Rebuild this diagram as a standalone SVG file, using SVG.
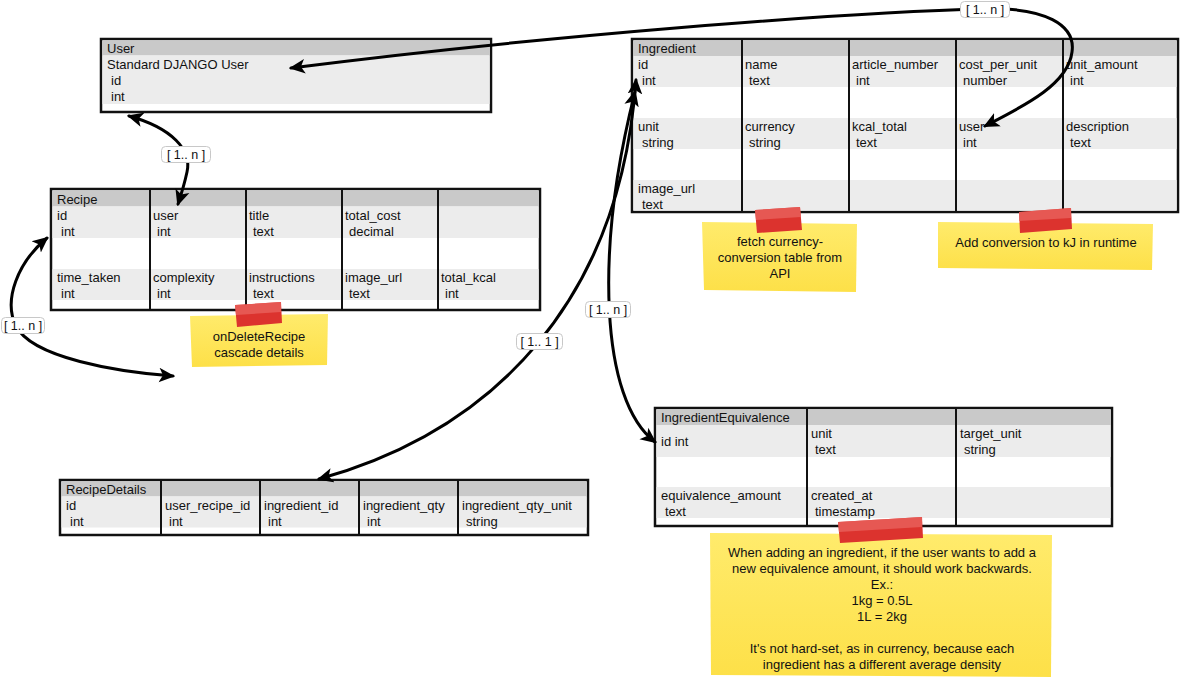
<svg xmlns="http://www.w3.org/2000/svg" width="1180" height="679" viewBox="0 0 1180 679">
<style>
text{font-family:"Liberation Sans",Arial,sans-serif;font-size:13px;fill:#111}
.frame{fill:#ffffff;stroke:#111;stroke-width:2.5}
.hdr{fill:#c9c9c9}
.row{fill:#ececec}
.col{stroke:#111;stroke-width:2}
.note{fill:url(#yel)}
.tape{fill:#dc332e}
.tapehi{fill:#e8615c;opacity:0.8}
.nt{text-anchor:middle}
.conn{fill:none;stroke:#000;stroke-width:3;stroke-linecap:round;marker-start:url(#ah);marker-end:url(#ah)}
.lbl{fill:#fff;stroke:#c8c8c8;stroke-width:1}
.lt{font-size:12.5px;text-anchor:middle}
</style>
<defs>
<linearGradient id="yel" x1="0" y1="0" x2="0" y2="1">
<stop offset="0" stop-color="#ffeb6c"/>
<stop offset="1" stop-color="#fde048"/>
</linearGradient>
<marker id="ah" viewBox="0 0 12 12" refX="10.5" refY="6" markerWidth="16" markerHeight="16" markerUnits="userSpaceOnUse" orient="auto-start-reverse">
<path d="M0,0.5 L12,6 L0,11.5 L3,6 z" fill="#000"/>
</marker>
</defs>

<g id="user">
<rect class="frame" x="101" y="39" width="390" height="73"/>
<rect class="hdr" x="102.5" y="40.5" width="387" height="15"/>
<rect class="row" x="102.5" y="55.5" width="387" height="48.5"/>
<text x="107" y="53">User</text>
<text x="107" y="69">Standard DJANGO User</text>
<text x="111" y="85">id</text>
<text x="111" y="101">int</text>
</g>

<g id="recipe">
<rect class="frame" x="51" y="189" width="489" height="121"/>
<rect class="hdr" x="52.5" y="190.5" width="486" height="16"/>
<rect class="row" x="52.5" y="206.5" width="486" height="31.5"/>
<rect class="row" x="52.5" y="269" width="486" height="31"/>
<line class="col" x1="150" y1="190" x2="150" y2="309"/>
<line class="col" x1="246" y1="190" x2="246" y2="309"/>
<line class="col" x1="342" y1="190" x2="342" y2="309"/>
<line class="col" x1="438" y1="190" x2="438" y2="309"/>
<text x="57" y="204">Recipe</text>
<text x="57" y="220">id</text><text x="61" y="236">int</text>
<text x="153" y="220">user</text><text x="157" y="236">int</text>
<text x="249" y="220">title</text><text x="253" y="236">text</text>
<text x="345" y="220">total_cost</text><text x="349" y="236">decimal</text>
<text x="57" y="282">time_taken</text><text x="61" y="298">int</text>
<text x="153" y="282">complexity</text><text x="157" y="298">int</text>
<text x="249" y="282">instructions</text><text x="253" y="298">text</text>
<text x="345" y="282">image_url</text><text x="349" y="298">text</text>
<text x="441" y="282">total_kcal</text><text x="445" y="298">int</text>
</g>

<g id="ingredient">
<rect class="frame" x="632" y="39" width="546" height="173"/>
<rect class="hdr" x="633.5" y="40.5" width="543" height="15.5"/>
<rect class="row" x="633.5" y="56" width="543" height="31"/>
<rect class="row" x="633.5" y="118" width="543" height="31"/>
<rect class="row" x="633.5" y="180" width="543" height="30.5"/>
<line class="col" x1="742" y1="40" x2="742" y2="211"/>
<line class="col" x1="849" y1="40" x2="849" y2="211"/>
<line class="col" x1="956" y1="40" x2="956" y2="211"/>
<line class="col" x1="1063" y1="40" x2="1063" y2="211"/>
<text x="638" y="53">Ingredient</text>
<text x="638" y="69">id</text><text x="642" y="85">int</text>
<text x="745" y="69">name</text><text x="749" y="85">text</text>
<text x="852" y="69">article_number</text><text x="856" y="85">int</text>
<text x="959" y="69">cost_per_unit</text><text x="963" y="85">number</text>
<text x="1066" y="69">unit_amount</text><text x="1070" y="85">int</text>
<text x="638" y="131">unit</text><text x="642" y="147">string</text>
<text x="745" y="131">currency</text><text x="749" y="147">string</text>
<text x="852" y="131">kcal_total</text><text x="856" y="147">text</text>
<text x="959" y="131">user</text><text x="963" y="147">int</text>
<text x="1066" y="131">description</text><text x="1070" y="147">text</text>
<text x="638" y="193">image_url</text><text x="642" y="209">text</text>
</g>

<g id="recipedetails">
<rect class="frame" x="60" y="480" width="528" height="55"/>
<rect class="hdr" x="61.5" y="481.5" width="525" height="15"/>
<rect class="row" x="61.5" y="496.5" width="525" height="31"/>
<line class="col" x1="161" y1="481" x2="161" y2="534"/>
<line class="col" x1="260" y1="481" x2="260" y2="534"/>
<line class="col" x1="359" y1="481" x2="359" y2="534"/>
<line class="col" x1="458" y1="481" x2="458" y2="534"/>
<text x="66" y="494">RecipeDetails</text>
<text x="66" y="510">id</text><text x="70" y="526">int</text>
<text x="165" y="510">user_recipe_id</text><text x="169" y="526">int</text>
<text x="264" y="510">ingredient_id</text><text x="268" y="526">int</text>
<text x="363" y="510">ingredient_qty</text><text x="367" y="526">int</text>
<text x="462" y="510">ingredient_qty_unit</text><text x="466" y="526">string</text>
</g>

<g id="ingredientequivalence">
<rect class="frame" x="655" y="408" width="457" height="118"/>
<rect class="hdr" x="656.5" y="409.5" width="454" height="15.5"/>
<rect class="row" x="656.5" y="425" width="454" height="32"/>
<rect class="row" x="656.5" y="487" width="454" height="31"/>
<line class="col" x1="807" y1="409" x2="807" y2="525"/>
<line class="col" x1="956" y1="409" x2="956" y2="525"/>
<text x="661" y="422">IngredientEquivalence</text>
<text x="661" y="446">id int</text>
<text x="811" y="438">unit</text><text x="815" y="454">text</text>
<text x="960" y="438">target_unit</text><text x="964" y="454">string</text>
<text x="661" y="500">equivalence_amount</text><text x="665" y="516">text</text>
<text x="811" y="500">created_at</text><text x="815" y="516">timestamp</text>
</g>

<g id="connectors">
<path class="conn" d="M 129 116 C 172 128 192 150 187 172 C 184 186 181 195 178 204"/>
<path class="conn" d="M 47 238 C 18 262 3 300 16 326 C 32 358 118 372 173 376"/>
<path class="conn" d="M 291 68 C 550 35 850 12 985 9 C 1045 7 1076 25 1072 52 C 1068 85 1022 107 985 126"/>
<path class="conn" d="M 636 80 C 620 300 495 430 319 479"/>
<path class="conn" d="M 635 92 C 595 250 600 400 655 442"/>
<g id="labels">
<rect class="lbl" x="161.5" y="146.5" width="49" height="16" rx="4"/>
<text class="lt" x="186" y="159">[ 1.. n ]</text>
<rect class="lbl" x="1.5" y="317.5" width="43" height="16" rx="4"/>
<text class="lt" x="23" y="330">[ 1.. n ]</text>
<rect class="lbl" x="960.5" y="1.5" width="49" height="16" rx="4"/>
<text class="lt" x="985" y="14">[ 1.. n ]</text>
<rect class="lbl" x="516.5" y="333.5" width="46" height="16" rx="4"/>
<text class="lt" x="539.5" y="346">[ 1.. 1 ]</text>
<rect class="lbl" x="585.5" y="301.5" width="45" height="16" rx="4"/>
<text class="lt" x="608" y="314">[ 1.. n ]</text>
</g>
</g>

<g id="note-delete">
<polygon class="note" points="190,316 328,314 327,365 192,367"/>
<polygon class="tape" points="235,305 281,302 282,323 237,327"/>
<polygon class="tapehi" points="235,305 281,302 281,312 236,315"/>
<text class="nt" x="259" y="341">onDeleteRecipe</text>
<text class="nt" x="259" y="357">cascade details</text>
</g>

<g id="note-currency">
<polygon class="note" points="702,222 857,224 856,292 704,290"/>
<polygon class="tape" points="755,210 800,207 802,230 757,233"/>
<polygon class="tapehi" points="755,210 800,207 801,217 756,220"/>
<text class="nt" x="780" y="246">fetch currency-</text>
<text class="nt" x="780" y="262">conversion table from</text>
<text class="nt" x="780" y="278">API</text>
</g>

<g id="note-kj">
<polygon class="note" points="938,222 1153,224 1152,270 938,268"/>
<polygon class="tape" points="1019,212 1071,208 1072,229 1020,233"/>
<polygon class="tapehi" points="1019,212 1071,208 1071,218 1019,221"/>
<text class="nt" x="1046" y="247">Add conversion to kJ in runtime</text>
</g>

<g id="note-equivalence">
<polygon class="note" points="710,533 1052,535 1051,677 711,675"/>
<polygon class="tape" points="838,522 922,517 923,538 840,543"/>
<polygon class="tapehi" points="838,522 922,517 922,527 839,532"/>
<text class="nt" x="882" y="557">When adding an ingredient, if the user wants to add a</text>
<text class="nt" x="882" y="573">new equivalence amount, it should work backwards.</text>
<text class="nt" x="882" y="589">Ex.:</text>
<text class="nt" x="882" y="605">1kg = 0.5L</text>
<text class="nt" x="882" y="621">1L = 2kg</text>
<text class="nt" x="882" y="653">It's not hard-set, as in currency, because each</text>
<text class="nt" x="882" y="669">ingredient has a different average density</text>
</g>
</svg>
